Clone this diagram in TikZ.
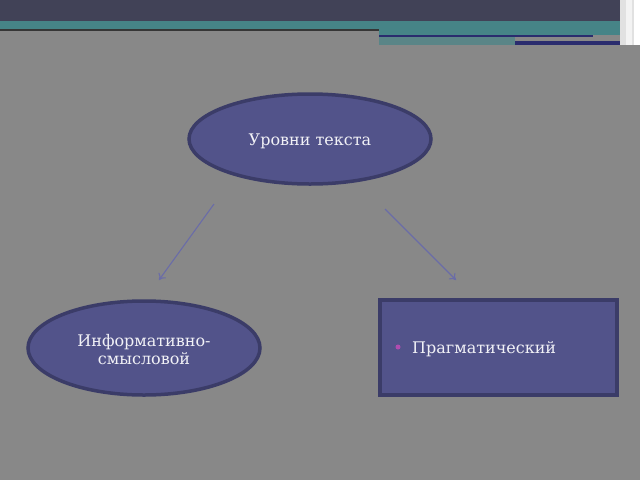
\documentclass[tikz,border=0pt]{standalone}
\usepackage{fontspec}
\setmainfont{DejaVu Serif}
\usetikzlibrary{shapes.geometric,arrows.meta}
\definecolor{slidebg}{HTML}{888888}
\definecolor{topbar}{HTML}{414257}
\definecolor{tealbar}{HTML}{468487}
\definecolor{navybar}{HTML}{2A2C6E}
\definecolor{boxfill}{HTML}{52538A}
\definecolor{boxline}{HTML}{3B3C68}
\definecolor{arrowcol}{HTML}{6A6CA8}
\definecolor{bulletcol}{HTML}{B04CB0}
\tikzset{
    levelshape/.style={ellipse,draw=boxline,line width=3.5pt,fill=boxfill,
        text=white!92!boxfill,font=\fontsize{16}{18}\selectfont,align=center,inner sep=0pt},
    levelbox/.style={rectangle,draw=boxline,line width=3.5pt,fill=boxfill,inner sep=0pt},
    leveltext/.style={text=white!92!boxfill,font=\fontsize{16}{18}\selectfont,inner sep=0pt},
    levelarrow/.style={-{To[length=6pt,width=9pt]},draw=arrowcol,line width=1.1pt}
}
\begin{document}
\begin{tikzpicture}[x=1pt,y=-1pt]
        \useasboundingbox (0,0) rectangle (640,480);
        \fill[slidebg] (0,0) rectangle (640,480);
        % header bands
        \fill[topbar] (0,0) rectangle (640,21);
        \fill[tealbar] (0,21) rectangle (628,29);
        \fill[black!60!slidebg] (0,29) rectangle (379,31);
        \fill[tealbar] (379,29) rectangle (628,35);
        \fill[navybar] (379,35) rectangle (593,37);
        \fill[tealbar!70!slidebg] (379,37) rectangle (515,45);
        \fill[navybar] (515,41) rectangle (628,45);
        \fill[white!75!slidebg] (620,0) rectangle (640,45);
        \fill[white!90!slidebg] (626,0) rectangle (632,45);
        \fill[white] (634,0) rectangle (640,45);
        % nodes
        \node[levelshape,minimum width=242pt,minimum height=90pt] (levels)
        at (310,139) {};
        \node[leveltext] (levelstext) at (310,141) {Уровни текста};
        \node[levelshape,minimum width=232pt,minimum height=94pt] (info)
        at (144,348) {};
        \node[leveltext,align=center] (infotext) at (144,350) {Информативно-\\смысловой};
        \node[levelbox,minimum width=237pt,minimum height=95pt] (prag)
        at (498.5,347.5) {};
        \fill[bulletcol] (398,347) circle (2.5pt);
        \node[leveltext,anchor=west] (pragtext) at (412,349) {Прагматический};
        % connectors
        \coordinate (lstart) at (214,204);
        \coordinate (lend) at (159,280);
        \coordinate (rstart) at (385,209);
        \coordinate (rend) at (456,280);
        \draw[levelarrow] (lstart) -- (lend);
        \draw[levelarrow] (rstart) -- (rend);
    \end{tikzpicture}
\end{document}
